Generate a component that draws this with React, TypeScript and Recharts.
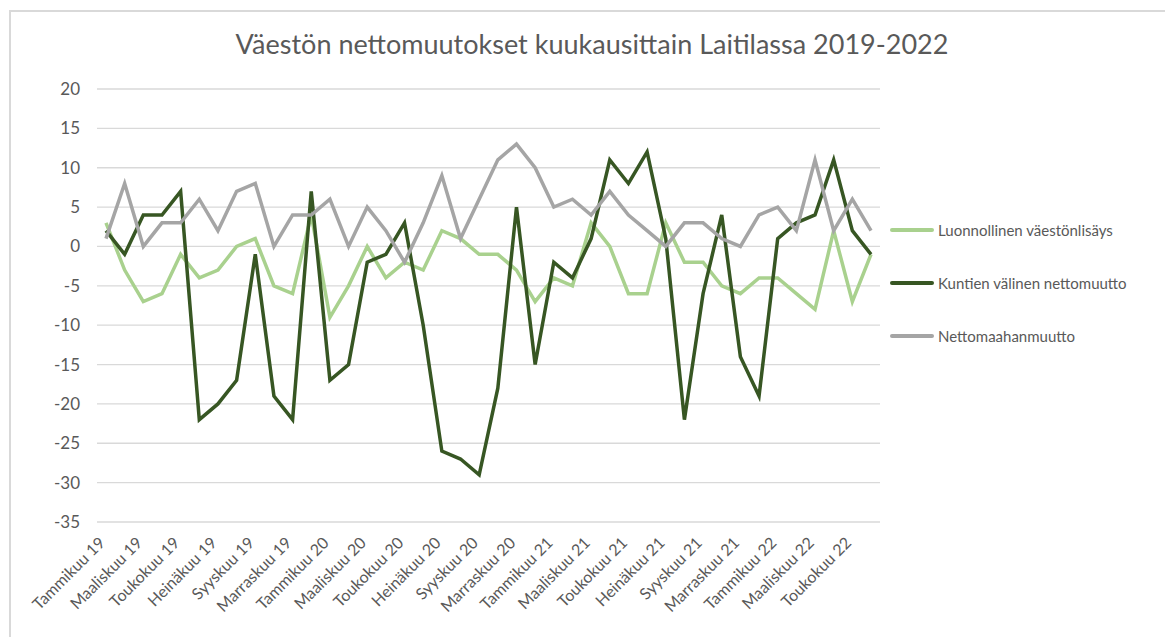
import { LineChart, Line, XAxis, YAxis, CartesianGrid } from 'recharts';

const months = [
  'Tammikuu 19', 'Helmikuu 19', 'Maaliskuu 19', 'Huhtikuu 19', 'Toukokuu 19', 'Kesäkuu 19',
  'Heinäkuu 19', 'Elokuu 19', 'Syyskuu 19', 'Lokakuu 19', 'Marraskuu 19', 'Joulukuu 19',
  'Tammikuu 20', 'Helmikuu 20', 'Maaliskuu 20', 'Huhtikuu 20', 'Toukokuu 20', 'Kesäkuu 20',
  'Heinäkuu 20', 'Elokuu 20', 'Syyskuu 20', 'Lokakuu 20', 'Marraskuu 20', 'Joulukuu 20',
  'Tammikuu 21', 'Helmikuu 21', 'Maaliskuu 21', 'Huhtikuu 21', 'Toukokuu 21', 'Kesäkuu 21',
  'Heinäkuu 21', 'Elokuu 21', 'Syyskuu 21', 'Lokakuu 21', 'Marraskuu 21', 'Joulukuu 21',
  'Tammikuu 22', 'Helmikuu 22', 'Maaliskuu 22', 'Huhtikuu 22', 'Toukokuu 22', 'Kesäkuu 22',
];

const luonnollinen = [
  3, -3, -7, -6, -1, -4, -3, 0, 1, -5, -6, 4,
  -9, -5, 0, -4, -2, -3, 2, 1, -1, -1, -3, -7,
  -4, -5, 3, 0, -6, -6, 3, -2, -2, -5, -6, -4,
  -4, -6, -8, 2, -7, -1,
];

const kuntien = [
  2, -1, 4, 4, 7, -22, -20, -17, -1, -19, -22, 7,
  -17, -15, -2, -1, 3, -10, -26, -27, -29, -18, 5, -15,
  -2, -4, 1, 11, 8, 12, 1, -22, -6, 4, -14, -19,
  1, 3, 4, 11, 2, -1,
];

const maahanmuutto = [
  1, 8, 0, 3, 3, 6, 2, 7, 8, 0, 4, 4,
  6, 0, 5, 2, -2, 3, 9, 1, 6, 11, 13, 10,
  5, 6, 4, 7, 4, 2, 0, 3, 3, 1, 0, 4,
  5, 2, 11, 2, 6, 2,
];

const yTicks = [20, 15, 10, 5, 0, -5, -10, -15, -20, -25, -30, -35];

const series = [
  { key: 'luonnollinen', name: 'Luonnollinen väestönlisäys', color: '#a9d18e' },
  { key: 'kuntien', name: 'Kuntien välinen nettomuutto', color: '#375623' },
  { key: 'maahanmuutto', name: 'Nettomaahanmuutto', color: '#a5a5a5' },
];

const chartData = months.map((m, i) => ({
  month: m,
  luonnollinen: luonnollinen[i],
  kuntien: kuntien[i],
  maahanmuutto: maahanmuutto[i],
}));

const FONT = 'Lato, "Open Sans", sans-serif';
const TEXT = '#595959';

const MonthTick = (props: any) => {
  const { x, y, payload } = props;
  return (
    <text
      transform={`translate(${x - 4},${y + 10}) rotate(-45)`}
      textAnchor="end"
      dy="0.35em"
      fontSize={16}
      fontFamily={FONT}
      fill={TEXT}
    >
      {payload.value}
    </text>
  );
};

const App = () => {
  return (
    <div style={{ position: 'absolute', left: 0, top: 0, width: 1165, height: 637, background: '#fff', fontFamily: FONT }}>
      <div style={{ position: 'absolute', left: 9, top: 10, right: 0, bottom: 0, borderTop: '2px solid #d9d9d9', borderLeft: '2px solid #d9d9d9' }} />
      <div style={{ position: 'absolute', left: 0, top: 27, width: 1184, textAlign: 'center', fontSize: 27, color: TEXT }}>
        Väestön nettomuutokset kuukausittain Laitilassa 2019-2022
      </div>
      <div style={{ position: 'absolute', left: 0, top: 0 }}>
        <LineChart width={1165} height={637} data={chartData} margin={{ top: 89, right: 285, bottom: 0, left: 0 }}>
          <CartesianGrid vertical={false} stroke="#d9d9d9" strokeWidth={1.3} />
          <XAxis
            dataKey="month"
            interval={1}
            tick={<MonthTick />}
            tickLine={false}
            axisLine={false}
            padding={{ left: 9, right: 9 }}
            height={115}
          />
          <YAxis
            domain={[-35, 20]}
            ticks={yTicks}
            width={97}
            tickLine={false}
            axisLine={false}
            tickMargin={11}
            tick={{ fontSize: 17, fill: TEXT, fontFamily: FONT }}
          />
          {series.map((s) => (
            <Line
              key={s.key}
              type="linear"
              dataKey={s.key}
              name={s.name}
              stroke={s.color}
              strokeWidth={3.5}
              dot={false}
              isAnimationActive={false}
            />
          ))}
        </LineChart>
      </div>
      <div style={{ position: 'absolute', left: 890, top: 220 }}>
        {series.map((s) => (
          <div key={s.key} style={{ display: 'flex', alignItems: 'center', height: 20, marginBottom: 33 }}>
            <div style={{ width: 44, height: 4, background: s.color, borderRadius: 2, marginRight: 4 }} />
            <span style={{ fontSize: 15, color: TEXT, whiteSpace: 'nowrap' }}>{s.name}</span>
          </div>
        ))}
      </div>
    </div>
  );
};

export default App;
